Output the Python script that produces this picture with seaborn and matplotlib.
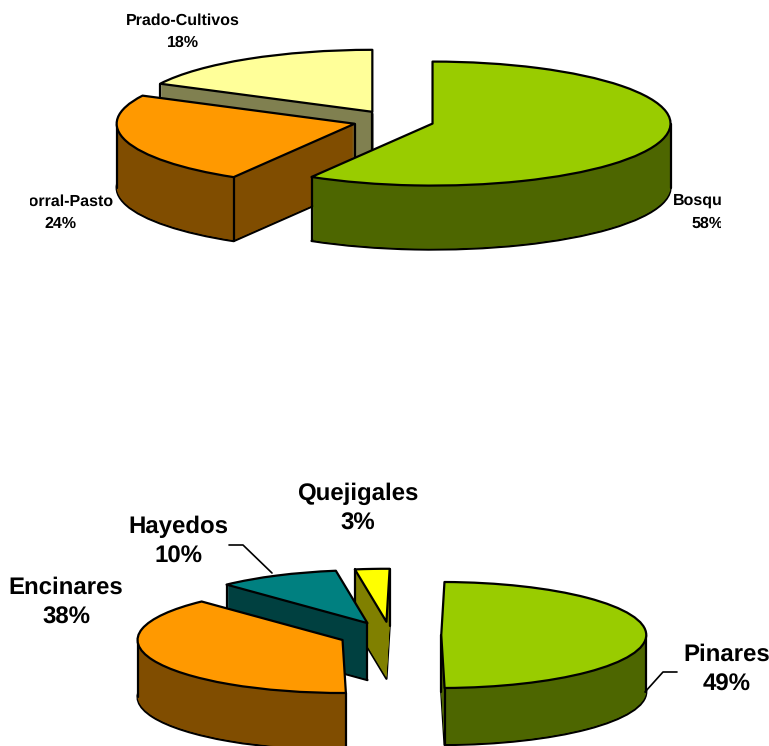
import matplotlib
matplotlib.use("Agg")
import matplotlib.pyplot as plt
from matplotlib.transforms import Bbox
import seaborn as sns
import numpy as np

sns.set_theme(style="white")
plt.rcParams['font.family'] = ['Liberation Sans', 'DejaVu Sans']
plt.rcParams['text.hinting'] = 'no_hinting'
plt.rcParams['text.hinting_factor'] = 1

W, H = 769, 746

top_labels = ["Bosque", "Matorral-Pasto", "Prado-Cultivos"]
top_values = [58.49, 24.0, 17.51]
top_colors = sns.color_palette(["#99CC00", "#FF9900", "#FFFF99"])
top_sides = sns.color_palette(["#4D6600", "#804D00", "#808050"])

bot_labels = ["Pinares", "Encinares", "Hayedos", "Quejigales"]
bot_values = [49.49, 38.2, 9.6, 2.71]
bot_colors = sns.color_palette(["#99CC00", "#FF9900", "#008080", "#FFFF00"])
bot_sides = sns.color_palette(["#4D6600", "#804D00", "#004040", "#808000"])

fig = plt.figure(figsize=(W / 100, H / 100), dpi=100, facecolor="white")


def pie3d(values, colors, sides, order, cx, cy, rx, ry, depth, explode, start, lw):
    ax = fig.add_axes([0, 0, 1, 1], frameon=False)
    dy = 1.0 / ry
    n = len(values)

    def layer(i, offset, face, edge, z):
        fc = [face if j == i else "none" for j in range(n)]
        w, _ = ax.pie(values, colors=fc, explode=[explode] * n, startangle=start,
                      counterclock=False, center=(0, -offset * dy), radius=1,
                      wedgeprops=dict(linewidth=0, edgecolor="none"), frame=False)
        for j, wd in enumerate(w):
            wd.set_zorder(z)
            if j != i:
                wd.set_visible(False)
            elif edge:
                wd.set_edgecolor("black")
                wd.set_linewidth(lw)
                wd.set_joinstyle("round")
        return w[i]

    for k, i in enumerate(order):
        base = 10 + k * 3
        layer(i, depth, sides[i], True, base)
        for d in range(depth - 1, 0, -1):
            layer(i, d, sides[i], False, base)
        tw = layer(i, 0, colors[i], True, base + 2)
        xc, yc = tw.center
        corners = [tw.theta1, tw.theta2]
        pts = [xc + np.cos(np.radians(a)) for a in corners] + [xc]
        extremes = [a for a in (0, 180, -180, 360) if tw.theta1 < a < tw.theta2]
        xmin = min(pts + [xc + np.cos(np.radians(a)) for a in extremes])
        xmax = max(pts + [xc + np.cos(np.radians(a)) for a in extremes])
        xs = []
        for a in corners:
            px = xc + np.cos(np.radians(a))
            if np.sin(np.radians(a)) < 0 or px <= xmin or px >= xmax:
                xs.append((px, yc + np.sin(np.radians(a))))
        for a in extremes:
            xs.append((xc + np.cos(np.radians(a)), yc + np.sin(np.radians(a))))
        if xc <= xmin or xc >= xmax:
            xs.append((xc, yc))
        for px, py in xs:
            ax.plot([px, px], [py, py - depth * dy], color="black", lw=lw,
                    zorder=base + 1, solid_capstyle="round")
    ax.set_aspect("auto")
    ax.set_xlim(-cx / rx, (W - cx) / rx)
    ax.set_ylim(-(H - cy) / ry, cy / ry)
    ax.patch.set_visible(False)
    return ax


ax1 = pie3d(top_values, top_colors, top_sides, [2, 1, 0], 393.5, 120.8, 238, 62, 64, 0.17, 90, 1.6)
ax2 = pie3d(bot_values, bot_colors, bot_sides, [3, 2, 1, 0], 390, 635, 205, 53, 57, 0.25, 89.1, 1.6)

ov = fig.add_axes([0, 0, 1, 1], frameon=False)
ov.set_xlim(0, W)
ov.set_ylim(H, 0)
ov.set_xticks([])
ov.set_yticks([])
ov.patch.set_visible(False)


def pct(values, i):
    return f"{round(100 * values[i] / sum(values))}%"


clip = Bbox([[30, 0], [721, H]])
tb = dict(fontsize=11.6, fontweight="bold", color="black", va="baseline")
items = [
    (top_labels[0], 673, 205, "left"), (pct(top_values, 0), 691, 228, "left"),
    (top_labels[1], 114, 206, "right"), (pct(top_values, 1), 60, 228, "center"),
    (top_labels[2], 183, 25, "center"), (pct(top_values, 2), 183, 47, "center"),
]
for s, x, y, ha in items:
    t = ov.text(x, y, s, ha=ha, **tb)
    t.set_clip_box(clip)
    t.set_clip_on(True)

bb = dict(fontsize=17, fontweight="bold", color="black", va="baseline", ha="center")
for i, (x, y) in enumerate([(727, 661), (66, 594), (178, 533), (358, 500)]):
    ov.text(x, y, bot_labels[i], **bb)
    ov.text(x, y + 30, pct(bot_values, i), **bb)

for xs, ys in [([229, 243, 272], [545, 545, 573]), ([677, 663, 645], [672, 672, 692])]:
    ov.plot(xs, ys, color="black", lw=1.2)

fig.savefig("out.png", dpi=100, facecolor="white")
